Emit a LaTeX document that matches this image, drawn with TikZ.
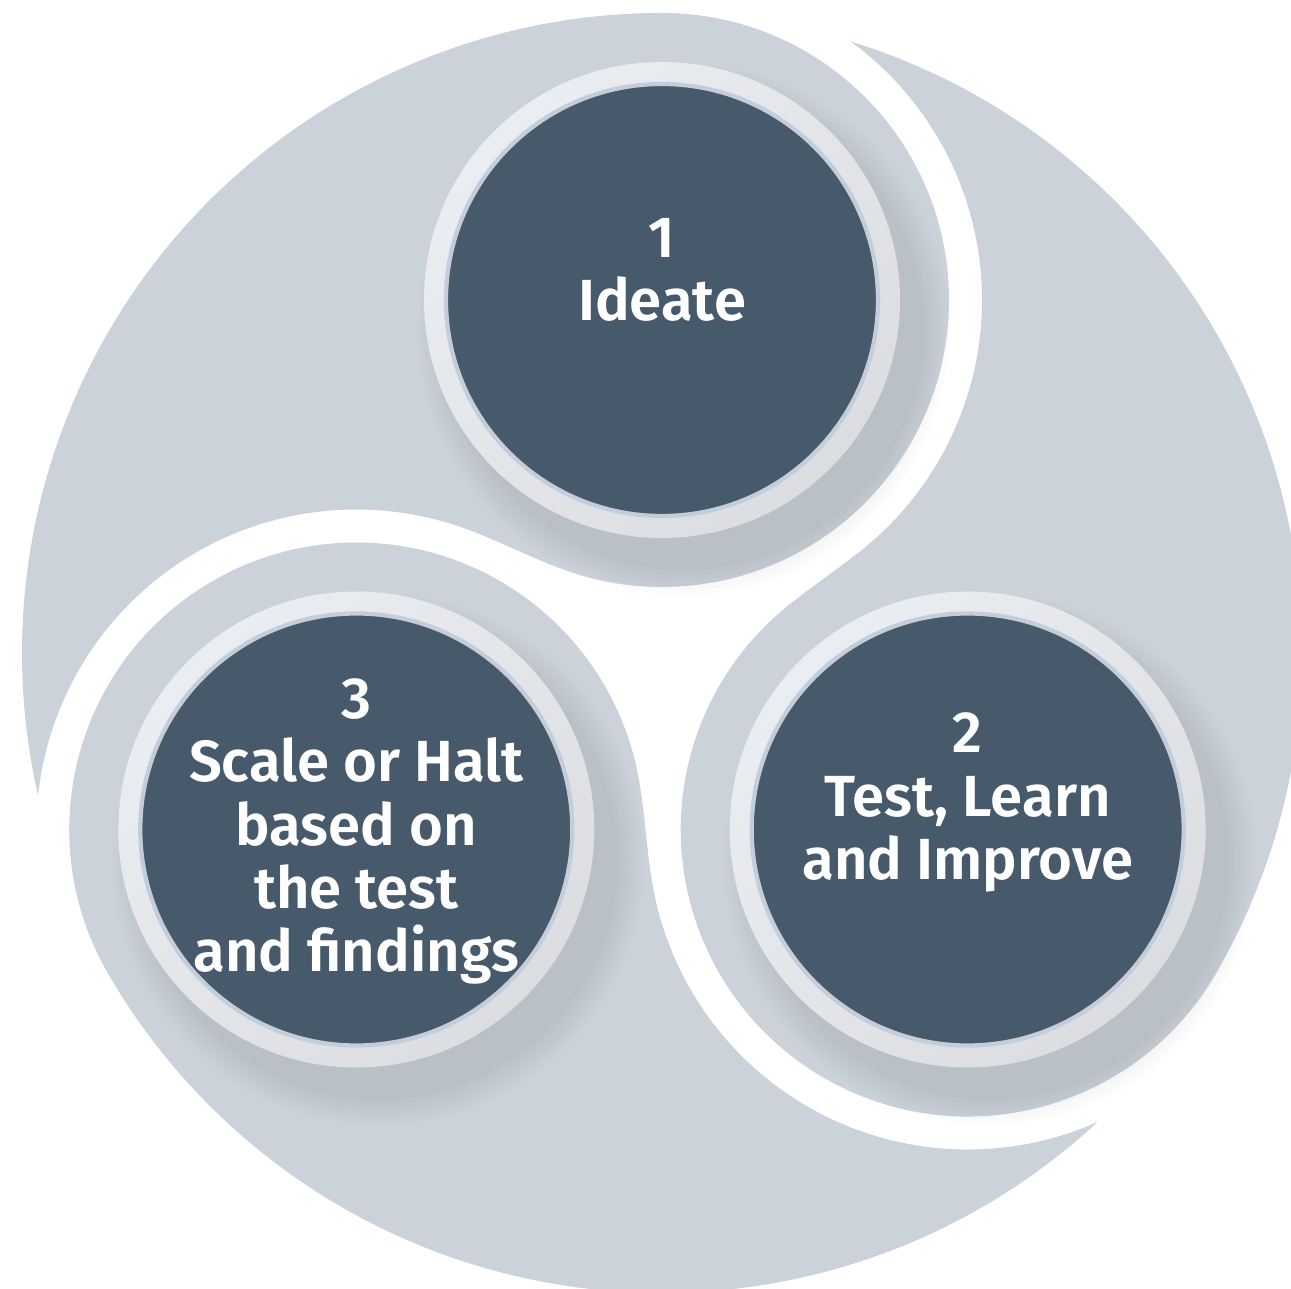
\documentclass[tikz,border=0pt]{standalone}
\usepackage{fontspec}
\setmainfont{Fira Sans SemiBold}
\usepackage{tikz}
\usetikzlibrary{positioning}
\definecolor{segfill}{HTML}{CBD2DA}
\definecolor{coreblue}{HTML}{475A6B}
\definecolor{coreedge}{HTML}{C3CEDA}
\definecolor{ringlight}{HTML}{EAEDF1}
\definecolor{ringdark}{HTML}{DCDDE0}
\tikzset{>=latex}

\begin{document}
\begin{tikzpicture}[
    seg/.style={fill=segfill},
    shadowdisk/.style={fill=black, opacity=0.012},
    ring/.style={circle, minimum size=4.76cm, inner sep=0pt,
        top color=ringlight, bottom color=ringdark, shading angle=45},
    core/.style={circle, minimum size=4.32cm, inner sep=0pt,
        fill=coreblue, draw=coreedge, line width=1.2pt},
    punkt/.style={text=white, align=center,
        font=\fontsize{16.5}{18}\selectfont}
    ]
\fill[white] (-6.62,-6.35) rectangle (6.29,6.53);
\useasboundingbox (-6.62,-6.35) rectangle (6.29,6.53);
% swirl segments, head + tail
\foreach \a in {0,-120,-240}
    \fill[seg, rotate=\a] (192.88:6.4)
        arc[start angle=192.88, end angle=90, radius=6.4]
        arc[start angle=90, end angle=-110, radius=2.87]
        .. controls (-1.311,0.953) and (-1.634,1.122) .. (-1.963,1.242)
        arc[start angle=70, end angle=173.98, radius=3.2] -- cycle;
% soft shadows
\foreach \a in {90,-30,210}
    \foreach \r in {2.40,2.45,...,2.66}
        \fill[shadowdisk, shift={(\a:3.53)}] (0.22,-0.30) circle (\r);
\node[ring] (r1) at (90:3.53) {};
\node[ring] (r2) at (-30:3.53) {};
\node[ring] (r3) at (210:3.53) {};
\node[core] (c1) at (r1) {};
\node[core] (c2) at (r2) {};
\node[core] (c3) at (r3) {};
\node[punkt] (t1) at ([yshift=3mm]c1.center) {1\\Ideate};
\node[punkt] (t2) at ([yshift=2.7mm]c2.center) {2\\Test, Learn\\and Improve};
\node[punkt] (t3) at ([yshift=-0.2mm]c3.center) {3\\Scale or Halt\\based on\\the test\\and findings};
\end{tikzpicture}
\end{document}
